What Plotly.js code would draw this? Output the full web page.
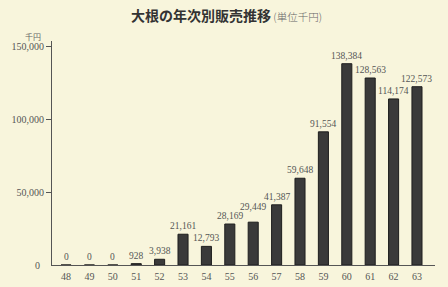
<!DOCTYPE html>
<html>
<head>
<meta charset="utf-8">
<script src="https://cdn.plot.ly/plotly-3.0.1.min.js"></script>
<style>html,body{margin:0;padding:0;background:#f8f5dc;}#chart{width:448px;height:287px;}</style>
</head>
<body>
<div id="chart"></div>
<script>
const years = ["48","49","50","51","52","53","54","55","56","57","58","59","60","61","62","63"];
const sales = [0,0,0,928,3938,21161,12793,28169,29449,41387,59648,91554,138384,128563,114174,122573];
const yTickVals = [50000,100000,150000];
const yTickText = ["50,000","100,000","150,000"];

const serif = "Liberation Serif";
const labels = sales.map(v => v.toLocaleString("en-US"));

const trace = {
  type: "bar",
  x: years,
  y: sales,
  width: 0.43,
  marker: {color: "#3a3a3a", line: {color: "#1e1e1e", width: 1}},
  hoverinfo: "none"
};

// value labels just above each bar (x given as category index); the 56 label sits a little higher to clear its neighbour
const valueAnnotations = years.map((yr, i) => ({
  x: i, y: sales[i], xref: "x", yref: "y",
  text: labels[i], showarrow: false,
  yanchor: "bottom", xanchor: "center",
  yshift: (yr === "56") ? 8 : 1,
  font: {family: serif, size: 9.5, color: "#555"}
}));

const layout = {
  width: 448, height: 287,
  margin: {l: 52, r: 13, t: 41, b: 22},
  paper_bgcolor: "#f8f5dc",
  plot_bgcolor: "#f8f5dc",
  showlegend: false,
  xaxis: {
    type: "category",
    range: [-0.6, 15.77],
    showline: true, linecolor: "#555", linewidth: 1,
    ticks: "", showgrid: false, zeroline: false,
    tickfont: {family: serif, size: 10, color: "#555"},
    ticklabelstandoff: 2
  },
  yaxis: {
    range: [0, 154000],
    showline: true, linecolor: "#555", linewidth: 1,
    ticks: "outside", ticklen: 5, tickcolor: "#555", tickwidth: 1,
    tickvals: yTickVals, ticktext: yTickText,
    showgrid: false, zeroline: false,
    tickfont: {family: serif, size: 10, color: "#555"}
  },
  annotations: [
    {text: "<b>大根の年次別販売推移</b><span style='font-family:Noto Sans CJK JP;font-weight:300;font-size:10.5px;color:#666'> (単位千円)</span>",
     xref: "paper", yref: "paper", x: 0.455, y: 1, yshift: 26, xanchor: "center", yanchor: "middle",
     showarrow: false, font: {family: "Noto Sans CJK JP", size: 14, color: "#333"}},
    {text: "千円", xref: "paper", yref: "paper", x: 0, xshift: -19, y: 1, yshift: 5,
     xanchor: "center", yanchor: "middle", showarrow: false,
     font: {family: "Noto Sans CJK JP", size: 8, color: "#666"}},
    {text: "0", xref: "paper", yref: "y", x: 0, xshift: -10, y: 0, xanchor: "right", yanchor: "middle",
     showarrow: false, font: {family: serif, size: 10, color: "#555"}}
  ].concat(valueAnnotations)
};

Plotly.newPlot("chart", [trace], layout, {displayModeBar: false, staticPlot: true});
</script>
</body>
</html>
